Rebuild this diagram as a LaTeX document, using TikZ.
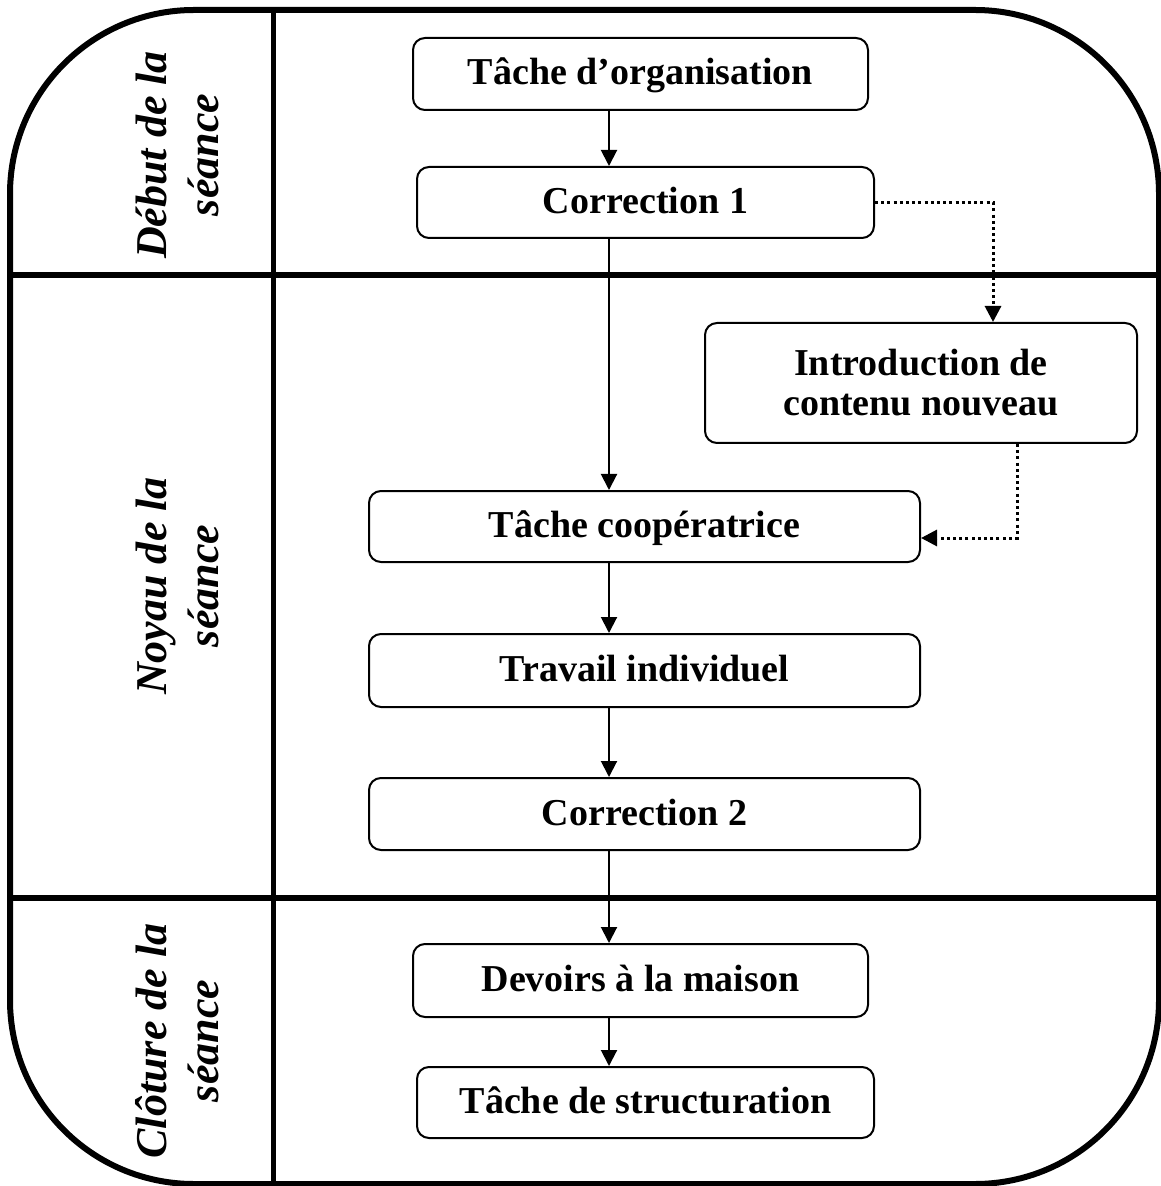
\documentclass[tikz,border=0pt]{standalone}
\usepackage{fontspec}
\setmainfont{Liberation Serif}
\usetikzlibrary{arrows.meta}
\begin{document}
\begin{tikzpicture}[x=0.5pt,y=-0.5pt,
  frame/.style={line width=3pt},
  divider/.style={line width=2.6pt},
  stepbox/.style={draw,rounded corners=6pt,line width=1pt,inner sep=0pt,
    font=\bfseries\fontsize{19}{20}\selectfont,align=center},
  oneline/.style={text height=14pt,text depth=3pt},
  phase/.style={rotate=90,align=center,inner sep=0pt,
    font=\bfseries\itshape\fontsize{22}{26}\selectfont},
  flow/.style={-{Triangle[width=8pt,length=8pt]},line width=1pt},
  dflow/.style={-{Triangle[width=8pt,length=8pt]},line width=1.5pt,dash pattern=on 1.5pt off 1.6pt}]
\useasboundingbox (0,0) rectangle (1160,1186);

% outer frame and dividers
\draw[frame,rounded corners=92pt] (10,10) rectangle (1159,1184);
\draw[divider] (273.5,10) -- (273.5,1184);
\draw[divider] (10,275) -- (1159,275);
\draw[divider] (10,898) -- (1159,898);

% phase labels
\node[phase] (p1) at (177,155) {Début de la\\séance};
\node[phase] (p2) at (177,586) {Noyau de la\\séance};
\node[phase] (p3) at (177,1041) {Clôture de la\\séance};

% steps
\node[stepbox,oneline,minimum width=227.5pt,minimum height=36pt] (t1) at (640.5,74) {Tâche d’organisation};
\node[stepbox,oneline,minimum width=228.5pt,minimum height=35.5pt] (c1) at (645.5,202.5) {Correction 1};
\node[stepbox,minimum width=216pt,minimum height=60pt] (intro) at (921,383) {Introduction de\\contenu nouveau};
\node[stepbox,oneline,minimum width=275.5pt,minimum height=35.5pt] (coop) at (644.5,526.5) {Tâche coopératrice};
\node[stepbox,oneline,minimum width=275.5pt,minimum height=36.5pt] (trav) at (644.5,670.5) {Travail individuel};
\node[stepbox,oneline,minimum width=275.5pt,minimum height=36pt] (c2) at (644.5,814) {Correction 2};
\node[stepbox,oneline,minimum width=227.5pt,minimum height=36.5pt] (dev) at (640.5,980.5) {Devoirs à la maison};
\node[stepbox,oneline,minimum width=228.5pt,minimum height=35.5pt] (struc) at (645.5,1102.5) {Tâche de structuration};

% connectors
\coordinate (ax) at (609,0);
\draw[flow] (t1.south -| ax) -- (c1.north -| ax);
\draw[flow] (c1.south -| ax) -- (coop.north -| ax);
\draw[flow] (coop.south -| ax) -- (trav.north -| ax);
\draw[flow] (trav.south -| ax) -- (c2.north -| ax);
\draw[flow] (c2.south -| ax) -- (dev.north -| ax);
\draw[flow] (dev.south -| ax) -- (struc.north -| ax);

\coordinate (d1) at (993,0);
\coordinate (d2) at (1017,538);
\draw[dflow] (c1.east) -| (intro.north -| d1);
\draw[dflow] (intro.south -| d2) |- (coop.east |- d2);
\end{tikzpicture}
\end{document}
